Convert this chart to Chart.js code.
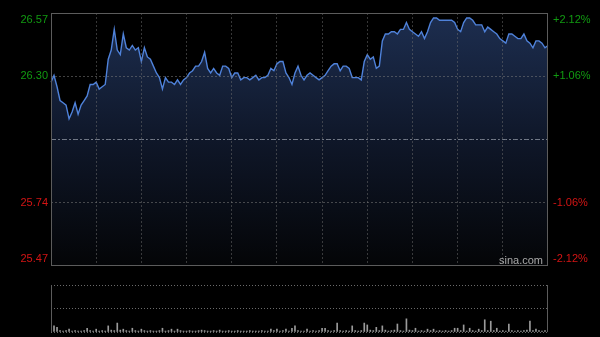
<!DOCTYPE html>
<html>
<head>
<meta charset="utf-8">
<script src="https://cdn.jsdelivr.net/npm/chart.js@4.4.0/dist/chart.umd.min.js"></script>
<style>
  html, body { margin: 0; padding: 0; background: #000; }
  #wrap { position: relative; width: 600px; height: 337px; overflow: hidden; background: #000; }
  #priceChart { position: absolute; left: 0; top: 0; }
  #volChart { position: absolute; left: 0; top: 270px; }
  #mark { position: absolute; left: 499px; top: 254px; font: 11px Arial, "Liberation Sans", sans-serif; color: #aaa; }
</style>
</head>
<body>
<div id="wrap">
  <canvas id="priceChart" width="600" height="337"></canvas>
  <canvas id="volChart" width="600" height="67"></canvas>
  <div id="mark">sina.com</div>
</div>
<script>
// Intraday data, one point every 2 minutes (09:30 - 12:00, 13:00 - 16:00)
const prevClose = 26.02;
const priceTicks = [26.5716, 26.2958, 25.7442, 25.4684];
const priceLabels = ['26.57', '26.30', '25.74', '25.47'];
const pctLabels = ['+2.12%', '+1.06%', '-1.06%', '-2.12%'];

const prices = [
  26.27, 26.30, 26.25, 26.19, 26.18, 26.17, 26.11, 26.14, 26.18, 26.13,
  26.17, 26.19, 26.21, 26.26, 26.26, 26.27, 26.24, 26.25, 26.26, 26.37,
  26.41, 26.50, 26.41, 26.39, 26.48, 26.42, 26.41, 26.43, 26.41, 26.42,
  26.36, 26.42, 26.38, 26.37, 26.34, 26.31, 26.29, 26.24, 26.29, 26.27,
  26.27, 26.26, 26.28, 26.26, 26.28, 26.29, 26.31, 26.32, 26.34, 26.34,
  26.36, 26.40, 26.33, 26.31, 26.33, 26.31, 26.30, 26.34, 26.34, 26.33,
  26.29, 26.31, 26.31, 26.28, 26.29, 26.29, 26.28, 26.29, 26.30, 26.28,
  26.29, 26.29, 26.30, 26.33, 26.32, 26.35, 26.36, 26.36, 26.31, 26.29,
  26.26, 26.31, 26.34, 26.30, 26.28, 26.30, 26.31, 26.30, 26.29, 26.28,
  26.29, 26.30, 26.32, 26.34, 26.35, 26.35, 26.32, 26.34, 26.34, 26.33,
  26.29, 26.29, 26.29, 26.28, 26.36, 26.39, 26.37, 26.38, 26.33, 26.34,
  26.45, 26.48, 26.48, 26.49, 26.49, 26.48, 26.50, 26.50, 26.53, 26.50,
  26.49, 26.48, 26.47, 26.49, 26.46, 26.49, 26.53, 26.55, 26.55, 26.54,
  26.54, 26.54, 26.54, 26.54, 26.53, 26.50, 26.49, 26.53, 26.55, 26.55,
  26.54, 26.52, 26.52, 26.52, 26.49, 26.51, 26.50, 26.49, 26.48, 26.46,
  26.45, 26.44, 26.48, 26.48, 26.47, 26.46, 26.46, 26.48, 26.45, 26.44,
  26.42, 26.45, 26.45, 26.44, 26.42, 26.43
];

const volumes = [
  28, 13, 10, 3, 2, 3, 6, 2, 3, 2,
  2, 3, 8, 3, 2, 6, 2, 3, 2, 13,
  4, 3, 19, 4, 6, 3, 2, 8, 3, 2,
  6, 3, 2, 3, 2, 2, 3, 8, 2, 3,
  6, 2, 6, 3, 2, 2, 3, 2, 2, 3,
  4, 3, 2, 2, 3, 2, 4, 2, 2, 3,
  2, 2, 3, 2, 2, 2, 3, 2, 2, 2,
  3, 2, 2, 6, 3, 6, 2, 3, 6, 2,
  8, 13, 3, 2, 2, 6, 2, 3, 2, 3,
  8, 8, 3, 2, 3, 19, 3, 2, 3, 2,
  13, 3, 2, 3, 19, 15, 4, 3, 10, 3,
  13, 4, 2, 3, 4, 17, 3, 2, 28, 4,
  3, 8, 2, 3, 2, 6, 3, 6, 2, 3,
  2, 3, 2, 3, 8, 8, 3, 15, 2, 8,
  3, 2, 6, 3, 26, 3, 23, 3, 8, 2,
  3, 2, 17, 3, 2, 3, 2, 3, 4, 23,
  3, 6, 3, 2, 3, 4
];

// time labels for the category axis
const times = [];
for (let i = 0; i < prices.length; i++) {
  let m = i * 2;
  let t = m <= 150 ? 570 + m : 780 + (m - 150);
  times.push(String(Math.floor(t / 60)).padStart(2, '0') + ':' + String(t % 60).padStart(2, '0'));
}

const green = '#119a11';
const red = '#d41414';
const font = { family: 'Arial, "Liberation Sans", sans-serif', size: 11 };

// draws the grey frame round the plot area
const framePlugin = {
  id: 'frame',
  afterDraw(chart, args, opts) {
    const a = chart.chartArea;
    const c = chart.ctx;
    c.save();
    c.strokeStyle = opts.color || '#666';
    c.lineWidth = 1;
    c.beginPath();
    if (opts.top) { c.moveTo(a.left, a.top + 0.5); c.lineTo(a.right, a.top + 0.5); }
    if (opts.bottom) { c.moveTo(a.left, a.bottom - 0.5); c.lineTo(a.right, a.bottom - 0.5); }
    c.moveTo(a.left + 0.5, a.top); c.lineTo(a.left + 0.5, a.bottom);
    c.moveTo(a.right - 0.5, a.top); c.lineTo(a.right - 0.5, a.bottom);
    c.stroke();
    c.restore();
  }
};

function areaFill(ctx) {
  const a = ctx.chart.chartArea;
  if (!a) return '#111a2e';
  const g = ctx.chart.ctx.createLinearGradient(0, a.top, 0, a.bottom);
  g.addColorStop(0, '#1d2e50');
  g.addColorStop(0.5, '#0f1729');
  g.addColorStop(1, '#040507');
  return g;
}

new Chart(document.getElementById('priceChart'), {
  type: 'line',
  data: {
    labels: times,
    datasets: [{
      data: prices,
      borderColor: '#4f82da',
      borderWidth: 1.4,
      pointRadius: 0,
      tension: 0,
      fill: 'start',
      backgroundColor: areaFill,
      order: 1
    }, {
      data: prices.map(() => prevClose),
      borderColor: '#737a88',
      borderWidth: 1,
      borderDash: [5, 2, 2, 2],
      pointRadius: 0,
      fill: false,
      order: 0
    }]
  },
  options: {
    responsive: false,
    animation: false,
    layout: { padding: { top: 13, bottom: 71, left: 0, right: 0 } },
    plugins: {
      legend: { display: false },
      tooltip: { enabled: false },
      frame: { color: '#5c5c5c', top: true, bottom: true }
    },
    scales: {
      x: {
        type: 'category',
        ticks: { display: false, autoSkip: false },
        grid: {
          z: 1,
          drawTicks: false,
          color: (c) => (c.index % 15 === 0 && c.index > 0 && c.index < prices.length - 1) ? 'rgba(110,110,110,0.5)' : 'transparent'
        },
        border: { display: false, dash: [2, 2] },
        afterFit: (s) => { s.height = 0; s.paddingLeft = 0; s.paddingRight = 0; }
      },
      y: {
        position: 'left',
        min: priceTicks[3],
        max: priceTicks[0],
        afterBuildTicks: (s) => { s.ticks = priceTicks.map(v => ({ value: v })); },
        afterFit: (s) => { s.width = 51; s.paddingTop = 0; s.paddingBottom = 0; },
        ticks: {
          font: font,
          padding: 3,
          color: (c) => c.index < 2 ? green : red,
          callback: (v, i) => i === 0 ? ['', priceLabels[i]] : i === 3 ? [priceLabels[i], ''] : priceLabels[i]
        },
        grid: {
          z: 1,
          drawTicks: false,
          color: (c) => (c.index === 1 || c.index === 2) ? 'rgba(120,120,120,0.55)' : 'transparent'
        },
        border: { display: false, dash: [2, 2] }
      },
      y2: {
        position: 'right',
        min: priceTicks[3],
        max: priceTicks[0],
        afterBuildTicks: (s) => { s.ticks = priceTicks.map(v => ({ value: v })); },
        afterFit: (s) => { s.width = 52; s.paddingTop = 0; s.paddingBottom = 0; },
        ticks: {
          font: font,
          padding: 5,
          color: (c) => c.index < 2 ? green : red,
          callback: (v, i) => i === 0 ? ['', pctLabels[i]] : i === 3 ? [pctLabels[i], ''] : pctLabels[i]
        },
        grid: { display: false, drawTicks: false },
        border: { display: false }
      }
    }
  },
  plugins: [framePlugin]
});

new Chart(document.getElementById('volChart'), {
  type: 'bar',
  data: {
    labels: times,
    datasets: [{
      data: volumes,
      backgroundColor: '#9a9a9a',
      barThickness: 1,
      categoryPercentage: 1,
      barPercentage: 1
    }]
  },
  options: {
    responsive: false,
    animation: false,
    layout: { padding: { top: 15, bottom: 5, left: 0, right: 52 } },
    plugins: {
      legend: { display: false },
      tooltip: { enabled: false },
      frame: { color: '#5c5c5c', top: false, bottom: false }
    },
    scales: {
      x: {
        type: 'category',
        offset: false,
        ticks: { display: false, autoSkip: false },
        grid: { display: false, drawTicks: false },
        border: { display: false },
        afterFit: (s) => { s.height = 0; s.paddingLeft = 0; s.paddingRight = 0; }
      },
      y: {
        position: 'left',
        min: 0,
        max: 100,
        ticks: { display: false, stepSize: 50 },
        afterFit: (s) => { s.width = 51; s.paddingTop = 0; s.paddingBottom = 0; },
        grid: { drawTicks: false, color: '#6a6a6a' },
        border: { display: false, dash: [1, 2] }
      }
    }
  },
  plugins: [framePlugin]
});
</script>
</body>
</html>
